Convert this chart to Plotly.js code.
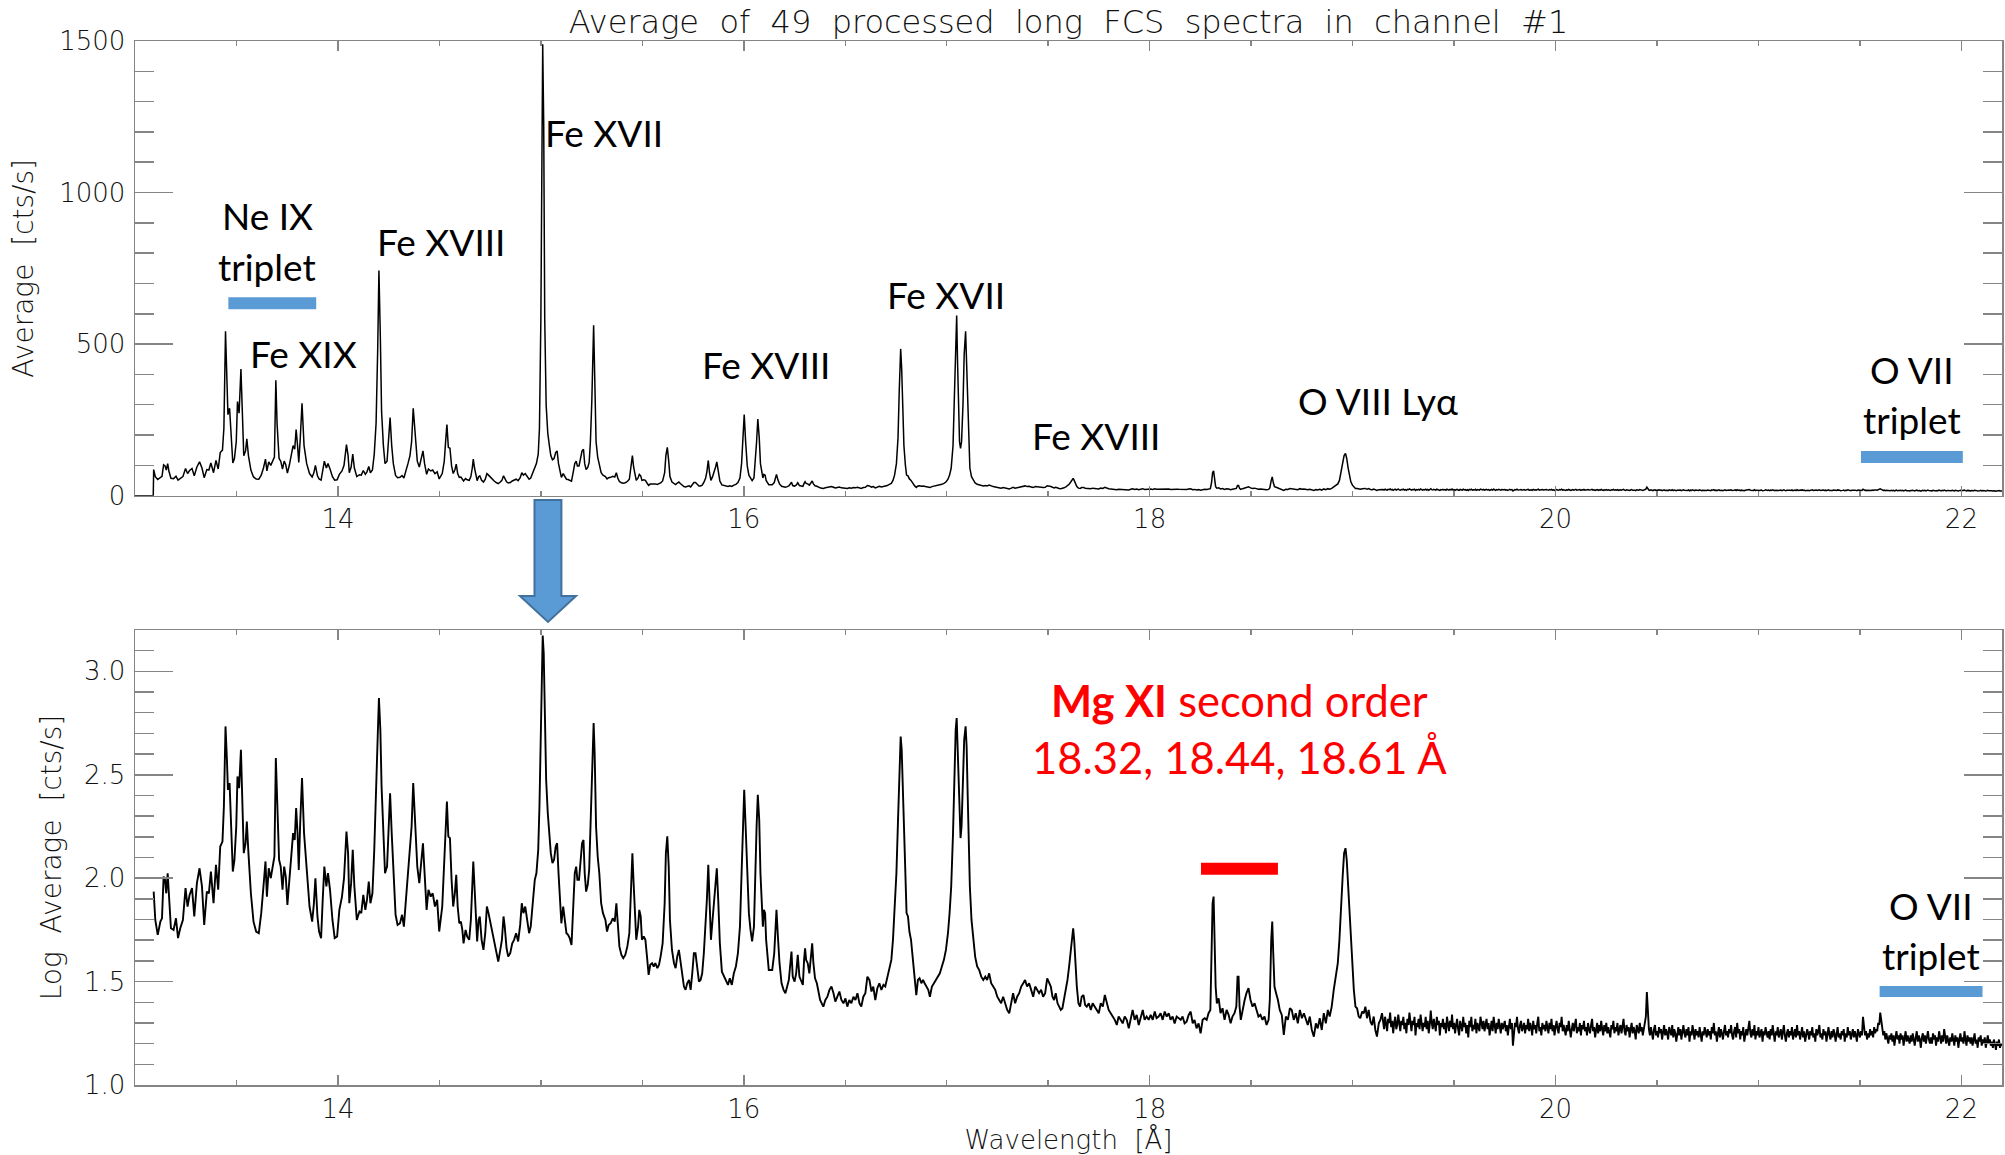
<!DOCTYPE html>
<html><head><meta charset="utf-8">
<script src="https://cdn.plot.ly/plotly-3.0.1.min.js"></script>
<style>html,body{margin:0;padding:0;background:#fff;}#chart{width:2005px;height:1155px;}</style>
</head><body><div id="chart"></div>
<script>
// Wavelength grid [Å] (line-rich part)
const wavelength = [
13.092,13.100,13.112,13.125,13.133,13.141,13.148,13.154,13.161,13.167,13.177,13.190,13.202,13.212,13.223,13.236,13.249,13.259,13.269,13.281,
13.292,13.305,13.318,13.330,13.341,13.354,13.364,13.374,13.387,13.399,13.410,13.420,13.431,13.438,13.446,13.453,13.458,13.466,13.474,13.482,
13.490,13.499,13.505,13.513,13.522,13.528,13.536,13.545,13.551,13.559,13.571,13.584,13.597,13.610,13.622,13.633,13.643,13.650,13.659,13.669,
13.679,13.687,13.694,13.700,13.710,13.718,13.727,13.735,13.743,13.751,13.761,13.771,13.779,13.787,13.794,13.801,13.807,13.814,13.823,13.833,
13.846,13.860,13.873,13.881,13.889,13.899,13.907,13.917,13.925,13.933,13.943,13.951,13.961,13.973,13.984,13.996,14.007,14.020,14.030,14.042,
14.050,14.056,14.065,14.073,14.081,14.093,14.106,14.115,14.125,14.135,14.143,14.152,14.160,14.170,14.179,14.188,14.196,14.202,14.209,14.215,
14.224,14.232,14.242,14.250,14.257,14.265,14.273,14.284,14.294,14.306,14.316,14.325,14.335,14.345,14.355,14.363,14.371,14.381,14.391,14.401,
14.411,14.419,14.427,14.437,14.446,14.457,14.467,14.478,14.489,14.499,
14.514,14.524,14.532,14.537,14.544,14.552,14.560,14.568,14.576,14.583,14.590,14.598,14.606,14.613,14.619,14.629,14.637,14.647,14.655,14.662,
14.667,14.673,14.680,14.686,14.693,14.699,14.708,14.717,14.726,14.734,14.742,14.750,14.760,14.770,14.780,14.790,14.800,14.808,14.816,14.822,
14.831,14.839,14.849,14.859,14.868,14.878,14.888,14.898,14.906,14.914,14.923,14.932,14.942,14.950,14.960,14.970,14.978,14.987,14.993,15.000,
15.005,15.009,15.014,15.019,15.026,15.034,15.042,15.049,15.057,15.065,15.073,15.080,15.087,15.095,15.101,15.110,15.118,15.126,15.134,15.142,
15.151,15.159,15.167,15.174,15.180,15.188,15.197,15.203,15.210,15.216,15.223,15.231,15.238,15.244,15.251,15.257,15.260,15.265,15.272,15.280,
15.288,15.297,15.306,15.318,15.326,15.334,15.344,15.354,15.364,15.372,15.379,15.387,15.397,15.406,15.416,15.426,15.436,15.444,15.451,15.457,
15.464,15.470,15.479,15.485,15.492,15.498,15.507,15.515,15.523,15.531,15.539,15.548,15.556,15.564,15.574,15.582,15.590,15.600,15.610,15.616,
15.623,15.630,15.636,15.646,15.656,15.664,15.672,15.680,15.687,15.695,15.705,15.713,15.721,15.730,15.738,15.746,15.754,15.762,15.771,15.779,
15.787,15.795,15.803,15.812,15.818,15.825,15.831,15.838,15.846,15.854,15.861,15.867,15.874,15.882,15.892,15.902,15.912,15.922,15.931,15.941,
15.951,15.961,15.971,15.981,15.989,15.995,
16.002,16.009,16.017,16.025,16.033,16.041,16.050,16.056,16.063,16.069,16.076,16.082,16.089,16.094,16.099,16.105,16.110,16.117,16.123,16.132,
16.140,16.150,16.156,16.161,16.168,16.176,16.186,16.196,16.205,16.214,16.222,16.228,16.235,16.241,16.250,16.258,16.266,16.274,16.282,16.291,
16.297,16.302,16.307,16.315,16.323,16.330,16.337,16.343,16.351,16.360,16.368,16.376,16.384,16.392,16.402,16.412,16.422,16.432,16.442,16.451,
16.461,16.471,16.481,16.491,16.501,16.510,16.520,16.530,16.540,16.550,16.560,16.570,16.579,16.589,16.599,16.609,16.619,16.629,16.638,16.648,
16.658,16.668,16.678,16.688,16.697,16.707,16.717,16.727,16.735,16.743,16.752,16.760,16.766,16.773,16.778,16.783,16.789,16.796,16.802,16.809,
16.816,16.824,16.832,16.842,16.850,16.858,16.866,16.875,16.883,16.891,16.901,16.909,16.917,16.927,16.937,16.947,16.957,16.966,16.976,16.986,
16.996,17.006,17.014,17.022,17.031,17.037,17.044,17.049,17.053,17.058,17.063,17.068,17.073,17.080,17.086,17.093,17.098,17.103,17.108,17.114,
17.122,17.131,17.140,17.150,17.160,17.170,17.180,17.190,17.199,17.209,17.219,17.229,17.239,17.249,17.258,17.268,17.278,17.288,17.298,17.308,
17.318,17.327,17.337,17.347,17.357,17.367,17.377,17.386,17.396,17.406,17.416,17.426,17.436,17.446,17.455,17.465,17.475,17.485,17.495,
17.513,17.521,17.529,17.537,17.546,17.554,17.562,17.570,17.578,17.587,17.595,17.603,17.611,17.618,17.623,17.628,17.634,17.641,17.649,17.657,
17.665,17.674,17.682,17.690,17.700,17.710,17.719,17.729,17.739,17.749,17.759,17.769,17.779,17.788,17.798,17.808,17.818,17.828,17.838,17.847,
17.857,17.867,17.877,17.887,17.897,17.907,17.916,17.926,17.936,17.946,17.956,17.966,17.975,17.985,17.995,18.005,18.015,18.025,18.034,18.044,
18.054,18.064,18.074,18.084,18.094,18.103,18.113,18.123,18.133,18.143,18.153,18.162,18.172,18.182,18.192,18.202,18.212,18.221,18.231,18.241,
18.251,18.261,18.271,18.281,18.290,18.299,18.305,18.310,18.315,18.320,18.325,18.331,18.340,18.349,18.359,18.369,18.379,18.389,18.399,18.408,
18.418,18.427,18.433,18.438,18.443,18.449,18.458,18.468,18.477,18.487,18.497,18.507,18.517,18.527,18.536,18.546,18.556,18.566,18.576,18.586,
18.592,18.599,18.604,18.609,18.615,18.623,18.632,18.641,18.651,18.661,18.671,18.681,18.691,18.700,18.710,18.720,18.730,18.740,18.750,18.760,
18.769,18.779,18.789,18.799,18.809,18.819,18.828,18.838,18.848,18.858,18.868,18.878,18.887,18.897,18.907,18.917,18.927,18.935,18.943,18.951,
18.958,18.965,18.971,18.978,18.984,18.991,18.999,19.006,19.014,19.022,19.030,19.038,19.047,19.055,19.063,19.071,19.079,19.088,19.096,19.104,
19.112,19.120,19.129,19.137,19.145
];
// log10 of the average count rate [cts/s]
const logAverage = [
1.935,1.798,1.726,1.790,1.806,2.008,1.992,1.927,2.024,1.911,1.758,1.750,1.806,1.710,1.758,1.798,1.952,1.863,1.919,1.952,
1.815,1.976,2.048,1.960,1.774,1.935,1.927,2.032,1.879,2.065,1.944,2.153,2.177,2.347,2.734,2.573,2.427,2.460,2.250,2.032,
2.089,2.250,2.492,2.435,2.621,2.444,2.121,2.169,2.274,2.121,1.927,1.790,1.742,1.734,1.831,1.960,2.081,1.911,2.048,2.000,
2.056,2.105,2.581,2.379,2.089,2.056,1.944,2.056,2.008,1.871,2.008,2.121,2.218,2.185,2.339,2.218,2.040,2.266,2.484,2.218,
2.024,1.863,1.790,1.871,2.000,1.815,1.742,1.710,1.895,2.056,1.960,2.024,1.944,1.798,1.710,1.718,1.847,1.911,2.000,2.226,
2.121,1.879,1.976,2.137,1.960,1.798,1.839,1.831,1.919,1.847,1.895,1.984,1.879,1.927,2.137,2.379,2.685,2.871,2.718,2.444,
2.218,2.024,2.056,2.266,2.411,2.218,2.024,1.823,1.774,1.782,1.823,1.766,1.895,2.024,2.121,2.250,2.460,2.282,2.056,1.976,
2.089,2.169,2.024,1.847,1.944,1.911,1.927,1.863,1.895,1.742,
1.863,2.056,2.282,2.371,2.202,2.194,1.992,1.863,1.927,2.016,1.863,1.782,1.790,1.750,1.685,1.750,1.718,1.702,1.798,1.960,
2.081,1.960,1.798,1.694,1.798,1.815,1.702,1.653,1.734,1.863,1.831,1.790,1.750,1.685,1.637,1.597,1.653,1.702,1.815,1.766,
1.661,1.621,1.637,1.685,1.702,1.734,1.694,1.774,1.879,1.831,1.863,1.798,1.734,1.766,1.879,1.992,2.024,2.137,2.347,2.766,
3.040,3.173,3.089,2.766,2.476,2.315,2.218,2.121,2.073,2.089,2.153,2.169,2.024,1.863,1.782,1.863,1.798,1.734,1.726,1.710,
1.677,1.879,2.024,2.056,1.992,1.992,2.089,2.169,2.185,2.024,1.935,1.968,2.040,2.250,2.492,2.734,2.750,2.605,2.250,2.105,
2.024,1.879,1.831,1.798,1.742,1.774,1.782,1.806,1.790,1.879,1.766,1.669,1.629,1.613,1.629,1.669,1.734,1.960,2.121,1.976,
1.798,1.702,1.766,1.847,1.815,1.702,1.718,1.702,1.621,1.532,1.581,1.589,1.573,1.589,1.565,1.581,1.621,1.685,1.879,2.121,
2.202,2.056,1.798,1.653,1.589,1.565,1.621,1.653,1.605,1.540,1.476,1.460,1.492,1.508,1.460,1.540,1.637,1.637,1.573,1.500,
1.508,1.540,1.637,1.766,1.895,2.065,1.879,1.702,1.798,1.895,1.976,2.048,1.895,1.685,1.548,1.524,1.508,1.484,1.516,1.484,
1.540,1.573,1.637,1.766,2.024,2.282,
2.427,2.250,1.992,1.831,1.750,1.694,1.766,2.024,2.250,2.403,2.282,2.024,1.831,1.766,1.847,1.831,1.702,1.637,1.556,1.556,
1.556,1.637,1.766,1.847,1.718,1.589,1.492,1.460,1.444,1.476,1.508,1.573,1.645,1.524,1.500,1.540,1.629,1.524,1.508,1.484,
1.605,1.661,1.605,1.589,1.540,1.637,1.685,1.589,1.516,1.492,1.444,1.411,1.395,1.379,1.411,1.427,1.460,1.476,1.444,1.403,
1.427,1.452,1.411,1.395,1.419,1.379,1.411,1.395,1.427,1.411,1.444,1.395,1.379,1.427,1.444,1.524,1.508,1.452,1.476,1.411,
1.468,1.492,1.460,1.484,1.476,1.524,1.573,1.605,1.702,1.831,2.024,2.282,2.540,2.685,2.621,2.444,2.218,2.008,1.831,1.815,
1.742,1.702,1.621,1.508,1.435,1.508,1.516,1.492,1.508,1.492,1.476,1.460,1.427,1.476,1.492,1.508,1.524,1.540,1.573,1.605,
1.653,1.734,1.831,1.960,2.218,2.492,2.718,2.774,2.653,2.411,2.250,2.194,2.250,2.476,2.669,2.734,2.637,2.411,2.202,1.960,
1.798,1.702,1.621,1.573,1.556,1.524,1.508,1.524,1.508,1.540,1.492,1.476,1.460,1.427,1.411,1.395,1.427,1.395,1.363,1.347,
1.395,1.444,1.395,1.427,1.444,1.476,1.492,1.508,1.476,1.492,1.460,1.427,1.476,1.460,1.444,1.460,1.427,1.444,1.516,
1.476,1.427,1.411,1.444,1.395,1.379,1.363,1.371,1.411,1.460,1.508,1.573,1.653,1.734,1.758,1.702,1.589,1.476,1.395,1.379,
1.427,1.435,1.387,1.379,1.395,1.363,1.395,1.379,1.363,1.347,1.395,1.379,1.435,1.395,1.363,1.347,1.331,1.315,1.290,1.331,
1.315,1.298,1.331,1.315,1.274,1.323,1.363,1.315,1.339,1.290,1.331,1.363,1.315,1.331,1.315,1.339,1.315,1.355,1.323,1.331,
1.347,1.315,1.355,1.331,1.347,1.315,1.331,1.298,1.331,1.323,1.315,1.331,1.298,1.306,1.339,1.355,1.298,1.315,1.274,1.298,
1.250,1.315,1.323,1.315,1.347,1.363,1.637,1.879,1.911,1.718,1.476,1.395,1.419,1.347,1.371,1.315,1.363,1.339,1.298,1.331,
1.347,1.379,1.524,1.524,1.379,1.315,1.363,1.411,1.444,1.468,1.411,1.379,1.395,1.355,1.331,1.339,1.315,1.331,1.290,1.315,
1.411,1.702,1.790,1.637,1.476,1.444,1.411,1.363,1.339,1.242,1.331,1.315,1.371,1.363,1.315,1.347,1.298,1.363,1.323,1.347,
1.315,1.290,1.331,1.266,1.234,1.298,1.274,1.323,1.266,1.347,1.298,1.363,1.331,1.379,1.460,1.524,1.589,1.702,1.879,2.008,
2.121,2.145,2.089,1.960,1.831,1.669,1.540,1.460,1.379,1.371,1.331,1.323,1.355,1.347,1.379,1.323,1.363,1.306,1.290,1.331,
1.266,1.234,1.298,1.315,1.347
];
// Continuum part, 0.005 Å bins (wavelengths and log values)
const tailWavelength = [
19.150,19.155,19.160,19.165,19.170,19.175,19.180,19.185,19.190,19.195,19.200,19.205,19.210,19.215,19.220,19.225,19.230,19.235,19.240,19.245,
19.250,19.255,19.260,19.265,19.270,19.275,19.280,19.285,19.290,19.295,19.300,19.305,19.310,19.315,19.320,19.325,19.330,19.335,19.340,19.345,
19.350,19.355,19.360,19.365,19.370,19.375,19.380,19.385,19.390,19.395,19.400,19.405,19.410,19.415,19.420,19.425,19.430,19.435,19.440,19.445,
19.450,19.455,19.460,19.465,19.470,19.475,19.480,19.485,19.490,19.495,19.500,19.505,19.510,19.515,19.520,19.525,19.530,19.535,19.540,19.545,
19.550,19.555,19.560,19.565,19.570,19.575,19.580,19.585,19.590,19.595,19.600,19.605,19.610,19.615,19.620,19.625,19.630,19.635,19.640,19.645,
19.650,19.655,19.660,19.665,19.670,19.675,19.680,19.685,19.690,19.695,19.700,19.705,19.710,19.715,19.720,19.725,19.730,19.735,19.740,19.745,
19.750,19.755,19.760,19.765,19.770,19.775,19.780,19.785,19.790,19.795,19.800,19.805,19.810,19.815,19.820,19.825,19.830,19.835,19.840,19.845,
19.850,19.855,19.860,19.865,19.870,19.875,19.880,19.885,19.890,19.895,19.900,19.905,19.910,19.915,19.920,19.925,19.930,19.935,19.940,19.945,
19.950,19.955,19.960,19.965,19.970,19.975,19.980,19.985,19.990,19.995,20.000,20.005,20.010,20.015,20.020,20.025,20.030,20.035,20.040,20.045,
20.050,20.055,20.060,20.065,20.070,20.075,20.080,20.085,20.090,20.095,20.100,20.105,20.110,20.115,20.120,20.125,20.130,20.135,20.140,20.145,
20.150,20.155,20.160,20.165,20.170,20.175,20.180,20.185,20.190,20.195,20.200,20.205,20.210,20.215,20.220,20.225,20.230,20.235,20.240,20.245,
20.250,20.255,20.260,20.265,20.270,20.275,20.280,20.285,20.290,20.295,20.300,20.305,20.310,20.315,20.320,20.325,20.330,20.335,20.340,20.345,
20.350,20.355,20.360,20.365,20.370,20.375,20.380,20.385,20.390,20.395,20.400,20.405,20.410,20.415,20.420,20.425,20.430,20.435,20.440,20.445,
20.450,20.455,20.460,20.465,20.470,20.475,20.480,20.485,20.490,20.495,20.500,20.505,20.510,20.515,20.520,20.525,20.530,20.535,20.540,20.545,
20.550,20.555,20.560,20.565,20.570,20.575,20.580,20.585,20.590,20.595,20.600,20.605,20.610,20.615,20.620,20.625,20.630,20.635,20.640,20.645,
20.650,20.655,20.660,20.665,20.670,20.675,20.680,20.685,20.690,20.695,20.700,20.705,20.710,20.715,20.720,20.725,20.730,20.735,20.740,20.745,
20.750,20.755,20.760,20.765,20.770,20.775,20.780,20.785,20.790,20.795,20.800,20.805,20.810,20.815,20.820,20.825,20.830,20.835,20.840,20.845,
20.850,20.855,20.860,20.865,20.870,20.875,20.880,20.885,20.890,20.895,20.900,20.905,20.910,20.915,20.920,20.925,20.930,20.935,20.940,20.945,
20.950,20.955,20.960,20.965,20.970,20.975,20.980,20.985,20.990,20.995,21.000,21.005,21.010,21.015,21.020,21.025,21.030,21.035,21.040,21.045,
21.050,21.055,21.060,21.065,21.070,21.075,21.080,21.085,21.090,21.095,21.100,21.105,21.110,21.115,21.120,21.125,21.130,21.135,21.140,21.145,
21.150,21.155,21.160,21.165,21.170,21.175,21.180,21.185,21.190,21.195,21.200,21.205,21.210,21.215,21.220,21.225,21.230,21.235,21.240,21.245,
21.250,21.255,21.260,21.265,21.270,21.275,21.280,21.285,21.290,21.295,21.300,21.305,21.310,21.315,21.320,21.325,21.330,21.335,21.340,21.345,
21.350,21.355,21.360,21.365,21.370,21.375,21.380,21.385,21.390,21.395,21.400,21.405,21.410,21.415,21.420,21.425,21.430,21.435,21.440,21.445,
21.450,21.455,21.460,21.465,21.470,21.475,21.480,21.485,21.490,21.495,21.500,21.505,21.510,21.515,21.520,21.525,21.530,21.535,21.540,21.545,
21.550,21.555,21.560,21.565,21.570,21.575,21.580,21.585,21.590,21.595,21.600,21.605,21.610,21.615,21.620,21.625,21.630,21.635,21.640,21.645,
21.650,21.655,21.660,21.665,21.670,21.675,21.680,21.685,21.690,21.695,21.700,21.705,21.710,21.715,21.720,21.725,21.730,21.735,21.740,21.745,
21.750,21.755,21.760,21.765,21.770,21.775,21.780,21.785,21.790,21.795,21.800,21.805,21.810,21.815,21.820,21.825,21.830,21.835,21.840,21.845,
21.850,21.855,21.860,21.865,21.870,21.875,21.880,21.885,21.890,21.895,21.900,21.905,21.910,21.915,21.920,21.925,21.930,21.935,21.940,21.945,
21.950,21.955,21.960,21.965,21.970,21.975,21.980,21.985,21.990,21.995,22.000,22.005,22.010,22.015,22.020,22.025,22.030,22.035,22.040,22.045,
22.050,22.055,22.060,22.065,22.070,22.075,22.080,22.085,22.090,22.095,22.100,22.105,22.110,22.115,22.120,22.125,22.130,22.135,22.140,22.145,
22.150,22.155,22.160,22.165,22.170,22.175,22.180,22.185,22.190,22.195,22.200
];
const tailLogAverage = [
1.31,1.27,1.33,1.29,1.26,1.32,1.30,1.35,1.28,1.31,1.25,1.30,1.33,1.27,1.29,1.34,1.28,1.26,1.31,1.29,
1.33,1.27,1.30,1.25,1.32,1.29,1.35,1.28,1.26,1.31,1.29,1.33,1.24,1.30,1.28,1.32,1.27,1.34,1.29,1.26,
1.30,1.28,1.33,1.27,1.31,1.25,1.29,1.36,1.30,1.27,1.32,1.28,1.26,1.33,1.29,1.31,1.24,1.30,1.28,1.32,
1.27,1.30,1.25,1.33,1.29,1.26,1.31,1.28,1.34,1.27,1.30,1.25,1.29,1.32,1.27,1.24,1.31,1.29,1.26,1.33,
1.28,1.30,1.25,1.29,1.23,1.31,1.28,1.33,1.26,1.29,1.27,1.32,1.25,1.30,1.28,1.26,1.33,1.29,1.27,1.31,
1.26,1.29,1.32,1.27,1.30,1.24,1.28,1.31,1.26,1.33,1.29,1.25,1.30,1.27,1.32,1.28,1.25,1.30,1.27,1.29,
1.31,1.26,1.29,1.24,1.28,1.32,1.27,1.30,1.19,1.26,1.30,1.28,1.33,1.27,1.25,1.29,1.31,1.26,1.28,1.30,
1.25,1.29,1.27,1.32,1.26,1.30,1.28,1.24,1.31,1.27,1.29,1.25,1.30,1.33,1.26,1.28,1.24,1.30,1.27,1.29,
1.26,1.31,1.28,1.25,1.30,1.27,1.32,1.26,1.29,1.24,1.28,1.31,1.27,1.25,1.30,1.28,1.33,1.26,1.29,1.27,
1.24,1.29,1.26,1.31,1.28,1.23,1.27,1.30,1.26,1.29,1.32,1.25,1.28,1.26,1.30,1.24,1.29,1.27,1.31,1.26,
1.28,1.24,1.30,1.27,1.25,1.29,1.32,1.26,1.28,1.23,1.27,1.30,1.25,1.29,1.26,1.31,1.27,1.24,1.29,1.26,
1.30,1.25,1.28,1.26,1.23,1.29,1.27,1.31,1.25,1.28,1.26,1.30,1.24,1.27,1.29,1.25,1.28,1.32,1.26,1.24,
1.29,1.26,1.28,1.23,1.27,1.30,1.25,1.28,1.26,1.22,1.29,1.27,1.25,1.30,1.26,1.28,1.24,1.27,1.30,1.33,
1.45,1.35,1.27,1.24,1.28,1.25,1.22,1.27,1.29,1.24,1.26,1.23,1.28,1.25,1.27,1.22,1.26,1.29,1.24,1.27,
1.25,1.22,1.28,1.26,1.24,1.29,1.23,1.27,1.25,1.21,1.26,1.28,1.24,1.27,1.22,1.26,1.29,1.25,1.23,1.27,
1.24,1.28,1.21,1.26,1.24,1.29,1.25,1.22,1.27,1.24,1.26,1.23,1.28,1.25,1.21,1.26,1.24,1.28,1.25,1.23,
1.27,1.24,1.26,1.22,1.28,1.25,1.30,1.24,1.26,1.21,1.25,1.28,1.23,1.27,1.25,1.22,1.26,1.29,1.24,1.26,
1.23,1.27,1.25,1.29,1.24,1.22,1.26,1.28,1.23,1.30,1.25,1.27,1.22,1.26,1.24,1.28,1.21,1.25,1.27,1.24,
1.28,1.31,1.25,1.23,1.27,1.24,1.29,1.22,1.26,1.24,1.28,1.23,1.25,1.27,1.21,1.26,1.24,1.28,1.25,1.23,
1.26,1.22,1.27,1.24,1.29,1.25,1.21,1.26,1.24,1.28,1.23,1.25,1.27,1.22,1.26,1.29,1.24,1.21,1.25,1.27,
1.23,1.26,1.24,1.28,1.22,1.25,1.27,1.23,1.29,1.24,1.26,1.22,1.25,1.28,1.23,1.26,1.21,1.24,1.27,1.25,
1.22,1.26,1.24,1.28,1.23,1.25,1.21,1.27,1.24,1.26,1.29,1.23,1.25,1.22,1.27,1.24,1.26,1.21,1.25,1.28,
1.24,1.22,1.26,1.23,1.27,1.25,1.21,1.24,1.28,1.23,1.25,1.22,1.26,1.24,1.27,1.21,1.25,1.23,1.28,1.24,
1.26,1.22,1.25,1.27,1.23,1.26,1.24,1.21,1.27,1.25,1.23,1.26,1.24,1.33,1.28,1.24,1.26,1.22,1.25,1.23,
1.27,1.24,1.26,1.23,1.28,1.25,1.27,1.26,1.30,1.29,1.35,1.32,1.27,1.24,1.26,1.22,1.25,1.23,1.20,1.24,
1.22,1.25,1.21,1.24,1.19,1.23,1.26,1.22,1.24,1.20,1.25,1.22,1.24,1.19,1.23,1.26,1.21,1.24,1.22,1.20,
1.24,1.21,1.25,1.22,1.19,1.23,1.26,1.21,1.24,1.22,1.18,1.23,1.25,1.21,1.24,1.20,1.23,1.26,1.22,1.20,
1.23,1.20,1.25,1.22,1.24,1.19,1.23,1.21,1.26,1.22,1.20,1.24,1.21,1.27,1.23,1.20,1.24,1.22,1.19,1.23,
1.21,1.25,1.22,1.19,1.24,1.21,1.23,1.18,1.22,1.25,1.21,1.23,1.20,1.26,1.22,1.19,1.24,1.21,1.23,1.20,
1.23,1.19,1.22,1.25,1.20,1.22,1.18,1.23,1.21,1.24,1.19,1.22,1.20,1.23,1.18,1.21,1.24,1.20,1.22,1.19,
1.21,1.18,1.22,1.20,1.17,1.21,1.19,1.22,1.18,1.20,1.19
];
// Upper panel: the spectrum is zero below the first detector bin
const upperLeadWavelength = [13.0, 13.09];
const upperLeadAverage = [0, 0];

const xTickVals = [14, 16, 18, 20, 22];
const topTickVals = [0, 500, 1000, 1500];
const bottomTickVals = [1.0, 1.5, 2.0, 2.5, 3.0];

const allWavelength = wavelength.concat(tailWavelength);
const allLog = logAverage.concat(tailLogAverage);
const upperX = upperLeadWavelength.concat(allWavelength);
const upperY = upperLeadAverage.concat(allLog.map(v => Math.pow(10, v)));

const FRAME = '#858585';
const idlFont = {family: 'DejaVu Sans', size: 26, color: '#111', weight: 200};
const lblFont = {family: 'Lato, Carlito, Calibri, sans-serif', size: 37, color: '#000'};
const redFont = {family: 'Lato, Carlito, Calibri, sans-serif', size: 43.5, color: '#FF0000'};
const sp = '\u00a0 ';

function xAxis(anchor) {
  return {anchor: anchor, domain: [0, 1], range: [13, 22.2], tickmode: 'array', tickvals: xTickVals,
    showline: true, linecolor: FRAME, linewidth: 1.5, mirror: 'ticks', ticks: 'inside', ticklen: 10,
    tickcolor: FRAME, tickwidth: 1.5, showgrid: false, zeroline: false, tickfont: idlFont,
    ticklabelstandoff: 0,
    minor: {dtick: 0.5, tick0: 0, ticks: 'inside', ticklen: 5, tickcolor: FRAME, tickwidth: 1.5, showgrid: false}};
}
function yAxis(anchor, domain, range, vals, minorD, fmt) {
  return {anchor: anchor, domain: domain, range: range, tickmode: 'array', tickvals: vals, tickformat: fmt,
    showline: true, linecolor: FRAME, linewidth: 1.5, mirror: 'ticks', ticks: 'inside', ticklen: 38,
    tickcolor: FRAME, tickwidth: 1.5, showgrid: false, zeroline: false, tickfont: idlFont,
    ticklabelstandoff: 3,
    minor: {dtick: minorD, tick0: 0, ticks: 'inside', ticklen: 19, tickcolor: FRAME, tickwidth: 1.5, showgrid: false}};
}

const traces = [
  {x: upperX, y: upperY, xaxis: 'x', yaxis: 'y', type: 'scatter', mode: 'lines',
   line: {color: '#000', width: 1.5}, hoverinfo: 'skip', showlegend: false},
  {x: allWavelength, y: allLog, xaxis: 'x2', yaxis: 'y2', type: 'scatter', mode: 'lines',
   line: {color: '#000', width: 1.9}, hoverinfo: 'skip', showlegend: false}
];

const xa1 = xAxis('y');
const xa2 = xAxis('y2');
xa2.title = {text: 'Wavelength' + sp + '[Å]', font: {family: 'DejaVu Sans', size: 26, color: '#111', weight: 200}, standoff: 12};
const ya1 = yAxis('x', [0.5645, 1], [0, 1500], topTickVals, 100, 'd');
ya1.title = {text: 'Average' + sp + '[cts/s]', font: {family: 'DejaVu Sans', size: 28, color: '#111', weight: 200}, standoff: 17};
const ya2 = yAxis('x2', [0, 0.4358], [1.0, 3.2], bottomTickVals, 0.1, '.1f');
ya2.title = {text: 'Log' + sp + 'Average' + sp + '[cts/s]', font: {family: 'DejaVu Sans', size: 28, color: '#111', weight: 200}, standoff: 14};

function ann(text, x, y, ref, font) {
  return {text: text, x: x, y: y, xref: ref[0], yref: ref[1], showarrow: false,
          xanchor: 'center', yanchor: 'middle', font: font};
}
const T = ['x', 'y'], B = ['x2', 'y2'];
const annotations = [
  ann('Ne IX', 13.651, 925, T, lblFont),
  ann('triplet', 13.651, 756, T, lblFont),
  ann('Fe XIX', 13.829, 470, T, lblFont),
  ann('Fe XVIII', 14.507, 838, T, lblFont),
  ann('Fe XVII', 15.311, 1198, T, lblFont),
  ann('Fe XVIII', 16.107, 434, T, lblFont),
  ann('Fe XVII', 16.995, 664, T, lblFont),
  ann('Fe XVIII', 17.736, 200, T, lblFont),
  ann('O VIII Lyα', 19.125, 315, T, lblFont),
  ann('O VII', 21.758, 417, T, lblFont),
  ann('triplet', 21.758, 252, T, lblFont),
  ann('<b>Mg XI</b> second order', 18.444, 2.863, B, redFont),
  ann('18.32, 18.44, 18.61 Å', 18.442, 2.585, B, redFont),
  ann('O VII', 21.850, 1.866, B, lblFont),
  ann('triplet', 21.850, 1.625, B, lblFont)
];

const BLUE = '#5B9BD5';
const shapes = [
  {type: 'rect', xref: 'x', yref: 'y', x0: 13.460, x1: 13.893, y0: 615, y1: 655, fillcolor: BLUE, line: {width: 0}},
  {type: 'rect', xref: 'x', yref: 'y', x0: 21.505, x1: 22.007, y0: 108, y1: 147, fillcolor: BLUE, line: {width: 0}},
  {type: 'rect', xref: 'x2', yref: 'y2', x0: 18.253, x1: 18.632, y0: 2.017, y1: 2.075, fillcolor: '#FF0000', line: {width: 0}},
  {type: 'rect', xref: 'x2', yref: 'y2', x0: 21.597, x1: 22.104, y0: 1.426, y1: 1.479, fillcolor: BLUE, line: {width: 0}},
  {type: 'path', xref: 'paper', yref: 'paper',
   path: 'M 0.21398 0.56034 L 0.22839 0.56034 L 0.22839 0.46839 L 0.23621 0.46839 L 0.22121 0.44349 L 0.20621 0.46839 L 0.21398 0.46839 Z',
   fillcolor: BLUE, line: {color: '#41719C', width: 2}}
];

const layout = {
  width: 2005, height: 1155,
  margin: {l: 135, r: 3, t: 41, b: 70},
  paper_bgcolor: '#fff', plot_bgcolor: '#fff',
  showlegend: false,
  title: {text: 'Average' + sp + 'of' + sp + '49' + sp + 'processed' + sp + 'long' + sp + 'FCS' + sp + 'spectra' + sp + 'in' + sp + 'channel' + sp + '#1',
          font: {family: 'DejaVu Sans', size: 32, color: '#111', weight: 200},
          x: 0.5, xref: 'paper', xanchor: 'center', y: 0.9815, yref: 'container', yanchor: 'middle'},
  xaxis: xa1, yaxis: ya1, xaxis2: xa2, yaxis2: ya2,
  annotations: annotations, shapes: shapes
};

Plotly.newPlot('chart', traces, layout, {displayModeBar: false, staticPlot: true});
</script>
</body></html>
